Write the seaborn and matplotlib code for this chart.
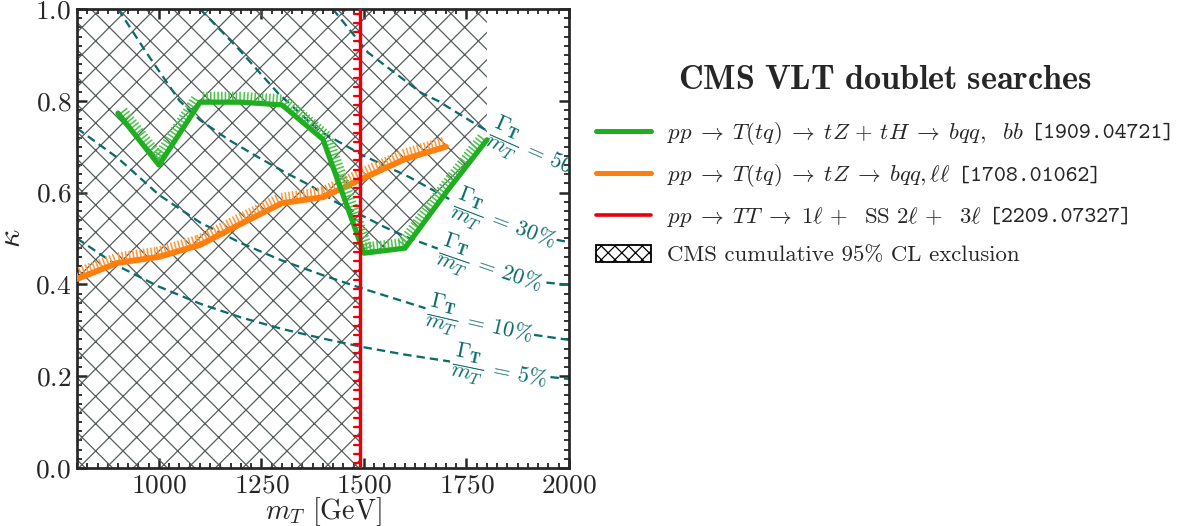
import numpy as np
import pandas as pd
import matplotlib
matplotlib.use("Agg")
import matplotlib.pyplot as plt
import matplotlib.patheffects as pe
from matplotlib.ticker import MultipleLocator
from matplotlib.lines import Line2D
from matplotlib.patches import Patch
import seaborn as sns

# --- limits on kappa vs. T mass -------------------------------------------
# single production, T(tq) -> tZ + tH -> bqq, bb  [1909.04721]
mass_tzh = [900, 1000, 1100, 1200, 1300, 1400, 1500, 1600, 1700, 1800]
kappa_tzh = [0.773, 0.660, 0.797, 0.797, 0.791, 0.716, 0.468, 0.479, 0.600, 0.715]

# single production, T(tq) -> tZ -> bqq, ll  [1708.01062]
mass_tz = [800, 900, 1000, 1100, 1200, 1300, 1400, 1500, 1600, 1700]
kappa_tz = [0.412, 0.447, 0.460, 0.486, 0.532, 0.577, 0.590, 0.632, 0.673, 0.700]

# pair production lower mass bound [GeV]  [2209.07327]
mass_pair = 1490

# --- Gamma_T / m_T iso-lines (NaN marks the gap left for the label) -------
gw5_m = [800, 900, 1000, 1100, 1200, 1300, 1400, 1500, 1600, 1710, np.nan, 1955, 2000]
gw5_k = [0.500, 0.440, 0.395, 0.358, 0.328, 0.303, 0.282, 0.263, 0.247, 0.232, np.nan, 0.198, 0.194]

gw10_m = [800, 900, 1000, 1100, 1200, 1300, 1400, 1500, 1600, 1650, np.nan, 1915, 2000]
gw10_k = [0.740, 0.675, 0.595, 0.535, 0.490, 0.452, 0.420, 0.390, 0.362, 0.348, np.nan, 0.290, 0.279]

gw20_m = [900, 970, 1050, 1100, 1170, 1240, 1310, 1370, 1430, 1550, 1610, 1680, np.nan, 1945, 2000]
gw20_k = [1.000, 0.904, 0.800, 0.758, 0.715, 0.678, 0.643, 0.615, 0.580, 0.525, 0.501, 0.478, np.nan, 0.404, 0.399]

gw30_m = [1100, 1190, 1290, 1390, 1500, 1610, 1710, np.nan, 1970, 2000]
gw30_k = [1.000, 0.917, 0.817, 0.735, 0.680, 0.634, 0.585, np.nan, 0.497, 0.492]

gw50_m = [1424, 1510, 1640, 1680, 1780, 1800]
gw50_k = [1.000, 0.905, 0.817, 0.800, 0.745, 0.735]

width_labels = ["5", "10", "20", "30", "50"]

# legend entries and their arXiv references
entry_labels = [
    r"$pp\;\to\;T(tq)\;\to\;tZ\,+\,tH\;\to\;bqq,\ \ bb$",
    r"$pp\;\to\;T(tq)\;\to\;tZ\;\to\;bqq,\ell\ell$",
    r"$pp\;\to\;TT\;\to\;1\ell\,+\ \ \mathrm{SS}\ 2\ell\,+\ \ 3\ell$",
    "CMS cumulative 95% CL exclusion",
]
entry_refs = ["[1909.04721]", "[1708.01062]", "[2209.07327]", ""]

# --- styling ---------------------------------------------------------------
sns.set_theme(style="ticks")
plt.rcParams.update({
    "font.family": ["cmr10", "DejaVu Serif"],
    "mathtext.fontset": "cm",
    "axes.formatter.use_mathtext": True,
    "axes.unicode_minus": False,
    "hatch.linewidth": 0.55,
    "axes.linewidth": 1.2,
    "xtick.direction": "in",
    "ytick.direction": "in",
    "xtick.top": True,
    "ytick.right": True,
})

C_GREEN = "#1fae1f"
C_ORANGE = "#ff7f0e"
C_RED = "#e8000b"
C_TEAL = "#0b6b6b"
C_HATCH = "#555d5d"

DPI = 164
fig = plt.figure(figsize=(1192 / DPI, 526 / DPI), dpi=DPI)
ax = fig.add_axes([0.0646, 0.1103, 0.4127, 0.8726])

# excluded region: everything below the pair bound, above the tZ+tH limit beyond it
k_at_pair = np.interp(mass_pair, mass_tzh, kappa_tzh)
tail_m = [m for m in mass_tzh if m > mass_pair]
tail_k = [k for m, k in zip(mass_tzh, kappa_tzh) if m > mass_pair]
poly_m = [mass_tz[0], mass_pair, mass_pair] + tail_m + [tail_m[-1], mass_tz[0]]
poly_k = [0.0, 0.0, k_at_pair] + tail_k + [1.0, 1.0]
ax.fill(poly_m, poly_k, facecolor="none", edgecolor=C_HATCH, hatch="xx",
        linewidth=0, zorder=1)

# width iso-lines
for m, k in [(gw5_m, gw5_k), (gw10_m, gw10_k), (gw20_m, gw20_k),
             (gw30_m, gw30_k), (gw50_m, gw50_k)]:
    ax.plot(m, k, ls=(0, (3.7, 2.2)), color=C_TEAL, lw=1.0, zorder=2)

label_pos = [(1716, 0.234, -11.5), (1654, 0.342, -13), (1684, 0.476, -19),
             (1718, 0.578, -21), (1806, 0.733, -24)]
for lab, (xm, yk, rot) in zip(width_labels, label_pos):
    ax.text(xm, yk, r"$\dfrac{\mathbf{\Gamma_T}}{\boldsymbol{m_T}}\:=\:%s\%%$" % lab,
            color=C_TEAL, fontsize=9.8, rotation=rot, rotation_mode="anchor",
            ha="left", va="center", clip_on=True, zorder=3)

# limit curves
df_tzh = pd.DataFrame({"mass": mass_tzh, "kappa": kappa_tzh})
df_tz = pd.DataFrame({"mass": mass_tz, "kappa": kappa_tz})

sns.lineplot(data=df_tz, x="mass", y="kappa", color=C_ORANGE, lw=2.6,
             errorbar=None, ax=ax, zorder=4)
ax.lines[-1].set_path_effects([
    pe.withTickedStroke(spacing=1.6, angle=90, length=2.7, foreground="#ff9a3c",
                        linewidth=0.7),
])
sns.lineplot(data=df_tzh, x="mass", y="kappa", color=C_GREEN, lw=2.3,
             errorbar=None, ax=ax, zorder=5)
ax.lines[-1].set_path_effects([
    pe.withTickedStroke(spacing=1.6, angle=90, length=2.7, foreground="#4cc64c",
                        linewidth=0.7),
])
ax.axvline(mass_pair, color=C_RED, lw=1.5, zorder=6,
           path_effects=[pe.withTickedStroke(spacing=4.0, angle=90, length=0.6,
                                             linewidth=1.0)])

# axes
ax.set_xlim(800, 2000)
ax.set_ylim(0, 1)
ax.xaxis.set_major_locator(MultipleLocator(250))
ax.xaxis.set_minor_locator(MultipleLocator(25))
ax.yaxis.set_major_locator(MultipleLocator(0.2))
ax.yaxis.set_minor_locator(MultipleLocator(0.02))
ax.tick_params(which="major", length=4.5, width=1.1, labelsize=12, pad=2.5,
               top=True, right=True)
ax.tick_params(which="minor", length=2.3, width=0.8, top=True, right=True)
ax.set_xlabel(r"$m_T$ [GeV]", fontsize=12.3, labelpad=-1)
ax.set_ylabel(r"$\kappa$", fontsize=14)
ax.yaxis.set_label_coords(-0.104, 0.5)

handles = [
    Line2D([], [], color=C_GREEN, lw=2.2),
    Line2D([], [], color=C_ORANGE, lw=2.2),
    Line2D([], [], color=C_RED, lw=1.6),
    Patch(facecolor="white", edgecolor="black", hatch="xxxx", lw=0.8),
]
leg = fig.legend(handles, entry_labels, loc="upper left",
                 bbox_to_anchor=(0.4832, 0.8114), frameon=False, fontsize=10,
                 handlelength=2.4, handleheight=0.75, handletextpad=0.7,
                 labelspacing=0.69)
fig.text(885 / 1192, 1 - 80 / 526, r"$\mathbf{CMS\ VLT\ doublet\ searches}$",
         fontsize=15, ha="center", va="center")

# arXiv references in typewriter type, right after each legend entry
fig.canvas.draw()
renderer = fig.canvas.get_renderer()
fw, fh = fig.bbox.width, fig.bbox.height
for txt, ref in zip(leg.get_texts(), entry_refs):
    if not ref:
        continue
    bb = txt.get_window_extent(renderer)
    fig.text((bb.x1 + 7) / fw, (bb.y0 + bb.y1) / 2 / fh, ref,
             family="cmtt10", fontsize=10, ha="left", va="center")

fig.savefig("out.png", dpi=DPI)
